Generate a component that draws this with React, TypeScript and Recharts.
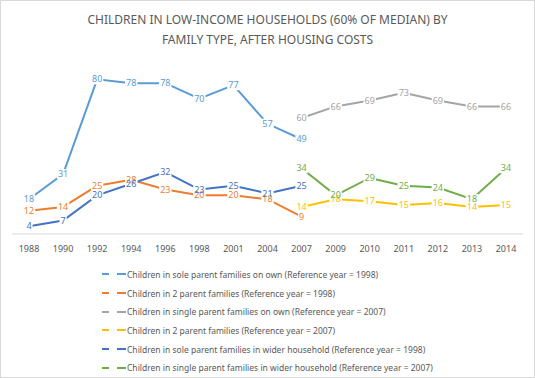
import React from "react";
import { LineChart, Line, XAxis, YAxis, LabelList } from "recharts";

const years = ["1988", "1990", "1992", "1994", "1996", "1998", "2001", "2004", "2007", "2009", "2010", "2011", "2012", "2013", "2014"];

const soleOwn1998 = [18, 31, 80, 78, 78, 70, 77, 57, 49, null, null, null, null, null, null];
const twoParent1998 = [12, 14, 25, 28, 23, 20, 20, 18, 9, null, null, null, null, null, null];
const singleOwn2007 = [null, null, null, null, null, null, null, null, 60, 66, 69, 73, 69, 66, 66];
const twoParent2007 = [null, null, null, null, null, null, null, null, 14, 18, 17, 15, 16, 14, 15];
const soleWider1998 = [4, 7, 20, 26, 32, 23, 25, 21, 25, null, null, null, null, null, null];
const singleWider2007 = [null, null, null, null, null, null, null, null, 34, 20, 29, 25, 24, 18, 34];

const series = [
  { key: "soleOwn1998", name: "Children in sole parent families on own (Reference year = 1998)", color: "#5B9BD5", values: soleOwn1998 },
  { key: "twoParent1998", name: "Children in 2 parent families (Reference year = 1998)", color: "#ED7D31", values: twoParent1998 },
  { key: "singleOwn2007", name: "Children in single parent families on own (Reference year = 2007)", color: "#A5A5A5", values: singleOwn2007 },
  { key: "twoParent2007", name: "Children in 2 parent families (Reference year = 2007)", color: "#FFC000", values: twoParent2007 },
  { key: "soleWider1998", name: "Children in sole parent families in wider household (Reference year = 1998)", color: "#4472C4", values: soleWider1998 },
  { key: "singleWider2007", name: "Children in single parent families in wider household (Reference year = 2007)", color: "#70AD47", values: singleWider2007 },
];

const data = years.map((year, i) => {
  const row: Record<string, string | number | null> = { year };
  series.forEach((s) => (row[s.key] = s.values[i]));
  return row;
});

const FONT = '"Noto Sans", sans-serif';

// white box under each label so the lines stop short of it (Excel look)
const labelBox = (props: any) => {
  const { x, y, value } = props;
  if (value == null || x == null || y == null) return null;
  const w = String(value).length * 5.2 + 2;
  return <rect x={x - w / 2} y={y - 5} width={w} height={10} fill="#fff" />;
};

function labelText(color: string) {
  return (props: any) => {
    const { x, y, value } = props;
    if (value == null || x == null || y == null) return null;
    return (
      <text x={x} y={y} dy="0.35em" textAnchor="middle" fontSize={9} fontFamily={FONT} fill={color}>
        {value}
      </text>
    );
  };
}

export default function App() {
  return (
    <div
      style={{
        position: "absolute",
        left: 0,
        top: 0,
        width: 535,
        height: 378,
        background: "#fff",
        border: "1px solid #d9d9d9",
        boxSizing: "border-box",
        fontFamily: FONT,
      }}
    >
      <div
        style={{
          position: "absolute",
          top: 9,
          left: 0,
          width: 533,
          textAlign: "center",
          fontSize: 12,
          lineHeight: "20px",
          color: "#595959",
        }}
      >
        CHILDREN IN LOW-INCOME HOUSEHOLDS (60% OF MEDIAN) BY
        <br />
        FAMILY TYPE, AFTER HOUSING COSTS
      </div>
      <div style={{ position: "absolute", left: -1, top: -1 }}>
        <LineChart width={535} height={378} data={data} margin={{ top: 60, right: 12, left: 12, bottom: 114 }}>
          <XAxis
            dataKey="year"
            tickLine={false}
            axisLine={{ stroke: "#d9d9d9" }}
            tickMargin={6}
            height={30}
            interval={0}
            padding={{ left: 17, right: 17 }}
            tick={{ fontSize: 9, fill: "#595959", fontFamily: FONT }}
          />
          <YAxis hide domain={[0, 90]} />
          {series.map((s) => (
            <Line
              key={s.key}
              dataKey={s.key}
              stroke={s.color}
              strokeWidth={2}
              dot={false}
              activeDot={false}
              type="linear"
              isAnimationActive={false}
            />
          ))}
          {series.map((s) => (
            <Line
              key={s.key + "-box"}
              dataKey={s.key}
              stroke="none"
              dot={false}
              activeDot={false}
              legendType="none"
              isAnimationActive={false}
            >
              <LabelList dataKey={s.key} content={labelBox} />
            </Line>
          ))}
          {series.map((s) => (
            <Line
              key={s.key + "-lbl"}
              dataKey={s.key}
              stroke="none"
              dot={false}
              activeDot={false}
              legendType="none"
              isAnimationActive={false}
            >
              <LabelList dataKey={s.key} content={labelText(s.color)} />
            </Line>
          ))}
        </LineChart>
      </div>
      <div style={{ position: "absolute", left: 101, top: 264 }}>
        {series.map((s) => (
          <div key={s.key} style={{ display: "flex", alignItems: "center", height: 18.7 }}>
            <span style={{ width: 7, height: 2, background: s.color, marginRight: 8 }} />
            <span style={{ width: 9, height: 2, background: s.color, marginRight: 1 }} />
            <span style={{ fontSize: 8.5, color: "#595959", whiteSpace: "nowrap" }}>{s.name}</span>
          </div>
        ))}
      </div>
    </div>
  );
}
